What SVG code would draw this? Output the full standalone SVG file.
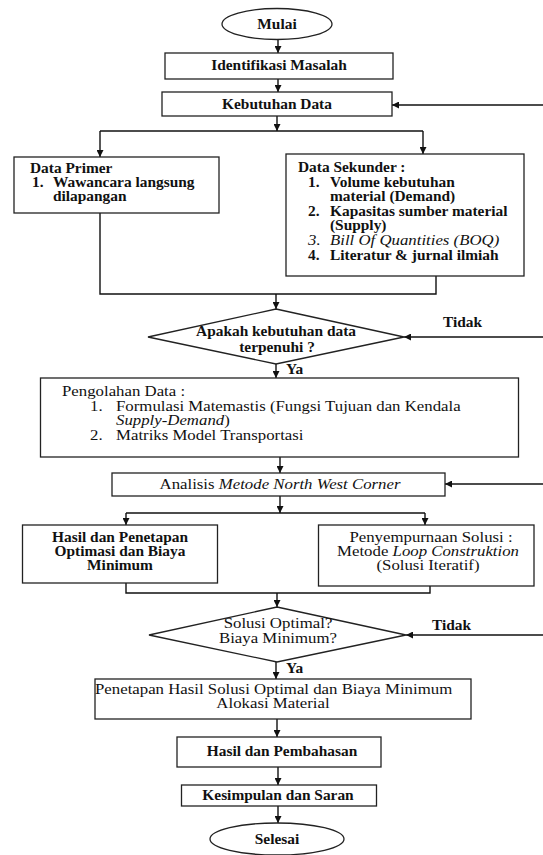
<svg xmlns="http://www.w3.org/2000/svg" width="543" height="855" viewBox="0 0 543 855">
<style>
.box{fill:#fff;stroke:#222;stroke-width:1.3}
.ln{fill:none;stroke:#111;stroke-width:1.4}
.t{font-family:"Liberation Serif","Times New Roman",serif;font-size:14px;font-weight:bold;fill:#111}
.r{font-family:"Liberation Serif","Times New Roman",serif;font-size:14px;fill:#111}
.i{font-style:italic}
.c{text-anchor:middle}
</style>
<defs>
<marker id="ah" viewBox="0 0 10 10" refX="10" refY="5" markerWidth="7" markerHeight="7" markerUnits="userSpaceOnUse" orient="auto">
<path d="M0,0 L10,5 L0,10 z" fill="#111"/>
</marker>
</defs>
<rect width="543" height="855" fill="#fff"/>
<g id="connectors">
<path class="ln" d="M278,40 V53" marker-end="url(#ah)"/>
<path class="ln" d="M278,79 V92" marker-end="url(#ah)"/>
<path class="ln" d="M543,105 H392" marker-end="url(#ah)"/>
<path class="ln" d="M277,116 V131" marker-end="url(#ah)"/>
<path class="ln" d="M100,131 H423"/>
<path class="ln" d="M100,131 V157" marker-end="url(#ah)"/>
<path class="ln" d="M423,131 V154" marker-end="url(#ah)"/>
<path class="ln" d="M100,213 V294 H436 V276"/>
<path class="ln" d="M276,294 V309" marker-end="url(#ah)"/>
<path class="ln" d="M543,337 H404" marker-end="url(#ah)"/>
<path class="ln" d="M276,364 V378" marker-end="url(#ah)"/>
<path class="ln" d="M280,457 V473" marker-end="url(#ah)"/>
<path class="ln" d="M543,484 H445" marker-end="url(#ah)"/>
<path class="ln" d="M280,496 V513" marker-end="url(#ah)"/>
<path class="ln" d="M126,513 H425"/>
<path class="ln" d="M126,513 V525" marker-end="url(#ah)"/>
<path class="ln" d="M425,513 V525" marker-end="url(#ah)"/>
<path class="ln" d="M126,583 V593 H430 V586"/>
<path class="ln" d="M277,593 V607" marker-end="url(#ah)"/>
<path class="ln" d="M543,635 H406" marker-end="url(#ah)"/>
<path class="ln" d="M276,662 V679" marker-end="url(#ah)"/>
<path class="ln" d="M277,719 V737" marker-end="url(#ah)"/>
<path class="ln" d="M278,767 V785" marker-end="url(#ah)"/>
<path class="ln" d="M278,806 V823" marker-end="url(#ah)"/>
<text class="t" transform="translate(443,327) scale(1.1,1)">Tidak</text>
<text class="t" transform="translate(286,374) scale(1.1,1)">Ya</text>
<text class="t" transform="translate(432,630) scale(1.1,1)">Tidak</text>
<text class="t" transform="translate(286,673) scale(1.1,1)">Ya</text>
</g>
<g id="mulai">
<ellipse class="box" cx="277" cy="24" rx="55" ry="15.5"/>
<text class="t c" transform="translate(277,29) scale(1.1,1)">Mulai</text>
</g>
<g id="identifikasi">
<rect class="box" x="165" y="53" width="228" height="26"/>
<text class="t c" transform="translate(279,70) scale(1.1,1)">Identifikasi Masalah</text>
</g>
<g id="kebutuhan">
<rect class="box" x="162" y="92" width="230" height="24"/>
<text class="t c" transform="translate(277,109) scale(1.1,1)">Kebutuhan Data</text>
</g>
<g id="primer">
<rect class="box" x="14" y="157" width="205" height="56"/>
<text class="t" transform="translate(30,173) scale(1.1,1)">Data Primer</text>
<text class="t" transform="translate(32,187) scale(1.1,1)">1.</text>
<text class="t" transform="translate(53,187) scale(1.1,1)">Wawancara langsung</text>
<text class="t" transform="translate(53,201) scale(1.1,1)">dilapangan</text>
</g>
<g id="sekunder">
<rect class="box" x="286" y="154" width="238" height="122"/>
<text class="t" transform="translate(298,172) scale(1.1,1)">Data Sekunder :</text>
<text class="t" transform="translate(308,187) scale(1.1,1)">1.</text>
<text class="t" transform="translate(330,187) scale(1.1,1)">Volume kebutuhan</text>
<text class="t" transform="translate(330,201) scale(1.1,1)">material (Demand)</text>
<text class="t" transform="translate(308,216) scale(1.1,1)">2.</text>
<text class="t" transform="translate(330,216) scale(1.1,1)">Kapasitas sumber material</text>
<text class="t" transform="translate(330,230) scale(1.1,1)">(Supply)</text>
<text class="r i" transform="translate(308,245) scale(1.2,1)">3.</text>
<text class="r i" transform="translate(330,245) scale(1.2,1)">Bill Of Quantities (BOQ)</text>
<text class="t" transform="translate(308,260) scale(1.1,1)">4.</text>
<text class="t" transform="translate(330,260) scale(1.1,1)">Literatur &amp; jurnal ilmiah</text>
</g>
<g id="cek-data">
<polygon class="box" points="276,309 404,337 276,364 148,337"/>
<text class="t c" transform="translate(276,336) scale(1.1,1)">Apakah kebutuhan data</text>
<text class="t c" transform="translate(277,352) scale(1.1,1)">terpenuhi ?</text>
</g>
<g id="pengolahan">
<rect class="box" x="40.5" y="378" width="478" height="79"/>
<text class="r" transform="translate(62,396) scale(1.2,1)">Pengolahan Data :</text>
<text class="r" transform="translate(90,411) scale(1.2,1)">1.</text>
<text class="r" transform="translate(116,411) scale(1.2,1)">Formulasi Matemastis (Fungsi Tujuan dan Kendala</text>
<text class="r" transform="translate(116,425) scale(1.2,1)"><tspan class="i">Supply-Demand</tspan>)</text>
<text class="r" transform="translate(90,440) scale(1.2,1)">2.</text>
<text class="r" transform="translate(116,440) scale(1.2,1)">Matriks Model Transportasi</text>
</g>
<g id="analisis">
<rect class="box" x="112" y="473" width="333" height="23"/>
<text class="r c" transform="translate(280,489) scale(1.2,1)">Analisis <tspan class="i">Metode North West Corner</tspan></text>
</g>
<g id="hasil-penetapan">
<rect class="box" x="22.5" y="525" width="195" height="58"/>
<text class="t c" transform="translate(120,542) scale(1.1,1)">Hasil dan Penetapan</text>
<text class="t c" transform="translate(120,556) scale(1.1,1)">Optimasi dan Biaya</text>
<text class="t c" transform="translate(120,570) scale(1.1,1)">Minimum</text>
</g>
<g id="penyempurnaan">
<rect class="box" x="318.5" y="525" width="215.5" height="61"/>
<text class="r c" transform="translate(431,542) scale(1.2,1)">Penyempurnaan Solusi :</text>
<text class="r c" transform="translate(428,556) scale(1.2,1)">Metode <tspan class="i">Loop Construktion</tspan></text>
<text class="r c" transform="translate(428,570) scale(1.2,1)">(Solusi Iteratif)</text>
</g>
<g id="cek-optimal">
<polygon class="box" points="277,607 406,635 277,662 149,635"/>
<text class="r c" transform="translate(278,628) scale(1.2,1)">Solusi Optimal?</text>
<text class="r c" transform="translate(278,643) scale(1.2,1)">Biaya Minimum?</text>
</g>
<g id="penetapan">
<rect class="box" x="95" y="679" width="376" height="40"/>
<text class="r" transform="translate(95,694) scale(1.2,1)">Penetapan Hasil Solusi Optimal dan Biaya Minimum</text>
<text class="r c" transform="translate(273,708) scale(1.2,1)">Alokasi Material</text>
</g>
<g id="hasil-pembahasan">
<rect class="box" x="177" y="737" width="204" height="30"/>
<text class="t c" transform="translate(282,756) scale(1.1,1)">Hasil dan Pembahasan</text>
</g>
<g id="kesimpulan">
<rect class="box" x="181.5" y="785" width="195" height="21"/>
<text class="t c" transform="translate(278,800) scale(1.1,1)">Kesimpulan dan Saran</text>
</g>
<g id="selesai">
<ellipse class="box" cx="277" cy="839" rx="67" ry="16"/>
<text class="t c" transform="translate(277,844) scale(1.1,1)">Selesai</text>
</g>
</svg>
